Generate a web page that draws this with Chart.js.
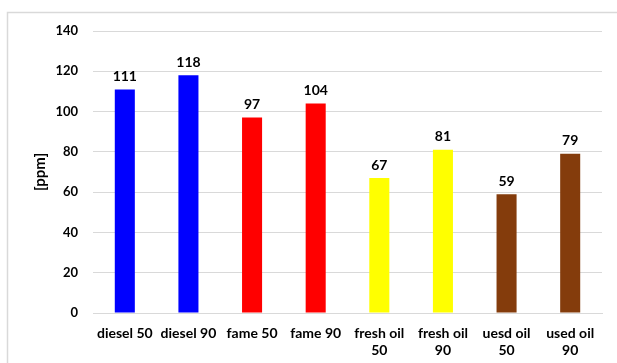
<!DOCTYPE html>
<html>
<head>
<meta charset="utf-8">
<script src="https://cdn.jsdelivr.net/npm/chart.js@4/dist/chart.umd.min.js"></script>
<style>
  html, body { margin: 0; padding: 0; background: #fff; }
  #wrap { position: relative; width: 617px; height: 363px; }
</style>
</head>
<body>
<div id="wrap"><canvas id="c" width="617" height="363"></canvas></div>
<script>
// Sample labels (multi-line where the axis wraps them)
const categories = [
  'diesel 50', 'diesel 90', 'fame 50', 'fame 90',
  ['fresh oil', '50'], ['fresh oil', '90'], ['uesd oil', '50'], ['used oil', '90']
];
// Measured concentration per sample, ppm
const ppmValues = [111, 118, 97, 104, 67, 81, 59, 79];
const barColors = ['#0000FF', '#0000FF', '#FF0000', '#FF0000', '#FFFF00', '#FFFF00', '#843C0C', '#843C0C'];
const yTicks = [0, 20, 40, 60, 80, 100, 120, 140];
const yTitle = '[ppm]';

const FONT = 'Lato, "Liberation Sans", sans-serif';

// Light frame around the chart (left and top edges)
const framePlugin = {
  id: 'frame',
  beforeDraw(chart) {
    const ctx = chart.ctx;
    ctx.save();
    ctx.strokeStyle = '#d9d9d9';
    ctx.lineWidth = 1.5;
    ctx.beginPath();
    ctx.moveTo(7.5, 363);
    ctx.lineTo(7.5, 12.5);
    ctx.lineTo(617, 12.5);
    ctx.stroke();
    ctx.restore();
  }
};

// Value labels above each bar
const valueLabels = {
  id: 'valueLabels',
  afterDatasetsDraw(chart) {
    const ctx = chart.ctx;
    const meta = chart.getDatasetMeta(0);
    ctx.save();
    ctx.font = 'bold 14px ' + FONT;
    ctx.fillStyle = '#000';
    ctx.textAlign = 'center';
    ctx.textBaseline = 'bottom';
    meta.data.forEach((bar, i) => {
      ctx.fillText(String(chart.data.datasets[0].data[i]), bar.x, bar.y - 6);
    });
    ctx.restore();
  }
};

new Chart(document.getElementById('c'), {
  type: 'bar',
  data: {
    labels: categories,
    datasets: [{
      data: ppmValues,
      backgroundColor: barColors,
      borderWidth: 0,
      categoryPercentage: 1.0,
      barPercentage: 0.315
    }]
  },
  options: {
    responsive: false,
    animation: false,
    devicePixelRatio: 1,
    layout: { padding: { left: 31, right: 15, top: 31, bottom: 0 } },
    plugins: { legend: { display: false }, tooltip: { enabled: false } },
    scales: {
      x: {
        grid: { display: false },
        border: { display: true, color: '#d9d9d9', width: 1 },
        ticks: {
          color: '#000',
          font: { family: FONT, size: 14, weight: 'bold' },
          maxRotation: 0, minRotation: 0, autoSkip: false,
          padding: 4
        },
        afterFit(scale) { scale.height = 50; }
      },
      y: {
        min: 0, max: 140,
        afterBuildTicks(scale) { scale.ticks = yTicks.map(v => ({ value: v })); },
        grid: { color: '#d9d9d9', lineWidth: 1, drawTicks: false },
        border: { display: false },
        ticks: {
          color: '#000',
          font: { family: FONT, size: 13, weight: 'bold' },
          padding: 15
        },
        title: {
          display: true,
          text: yTitle,
          color: '#000',
          font: { family: FONT, size: 15, weight: 'bold' },
          padding: { top: 0, bottom: 0 }
        },
        afterFit(scale) { scale.width = 62; }
      }
    }
  },
  plugins: [framePlugin, valueLabels]
});
</script>
</body>
</html>
